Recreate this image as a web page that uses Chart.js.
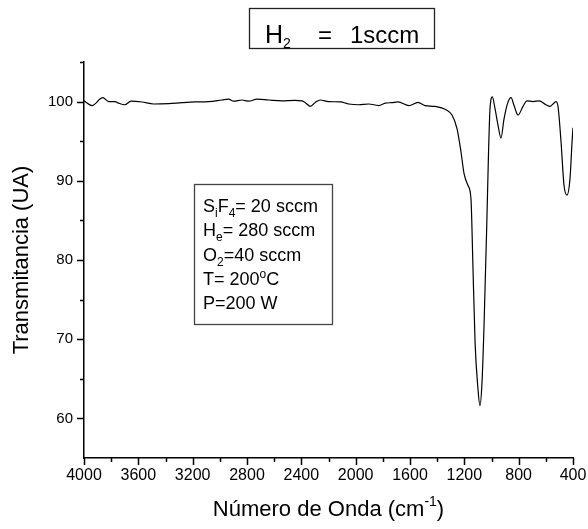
<!DOCTYPE html>
<html>
<head>
<meta charset="utf-8">
<title>Transmitancia</title>
<script src="https://cdn.jsdelivr.net/npm/chart.js@4.4.1/dist/chart.umd.min.js"></script>
<style>
  html, body { margin: 0; padding: 0; background: #fff; }
  #wrap { width: 588px; height: 529px; }
</style>
</head>
<body>
<div id="wrap"><canvas id="grafico" width="588" height="529"></canvas></div>
<script>
// espectro FTIR: numero de onda (cm-1) y transmitancia (UA)
const numeroOnda = [
  4000, 3941, 3862, 3818, 3772, 3745, 3700, 3654, 3573, 3487,
  3376, 3279, 3183, 3082, 2984, 2935, 2898, 2837, 2788, 2726,
  2640, 2542, 2447, 2395, 2366, 2334, 2297, 2260, 2199, 2113,
  2051, 1978, 1904, 1830, 1782, 1733, 1688, 1607, 1541, 1490,
  1416, 1328, 1291, 1254, 1225, 1202, 1173, 1151, 1138, 1121,
  1100, 1085, 1070, 1055, 1035, 1023, 1011, 994, 974, 952,
  930, 908, 878, 856, 834, 805, 768, 739, 694, 650,
  599, 569, 547, 525, 510, 488, 466, 444, 422, 407, 400
];
const transmitancia = [
  100.1, 99.5, 100.5, 100.0, 100.0, 99.8, 99.6, 100.05, 99.95, 99.7,
  99.75, 99.87, 99.96, 100.0, 100.2, 100.3, 100.05, 100.2, 100.05, 100.3,
  100.2, 100.1, 100.15, 100.1, 99.8, 99.4, 99.9, 100.2, 100.0, 99.96,
  99.7, 99.6, 99.7, 99.5, 99.8, 99.87, 99.96, 99.5, 99.9, 99.5,
  99.4, 98.9, 98.3, 96.6, 93.7, 90.9, 89.4, 87.7, 80.1, 69.6,
  63.8, 61.6, 64.5, 71.7, 84.3, 92.8, 99.1, 100.6, 99.1, 97.0,
  95.4, 97.8, 99.96, 100.5, 99.5, 98.3, 99.4, 100.1, 100.0, 100.1,
  99.6, 99.4, 99.7, 100.0, 99.35, 94.9, 89.4, 88.2, 90.3, 94.9, 96.7
];

const ticksX = [4000, 3600, 3200, 2800, 2400, 2000, 1600, 1200, 800, 400];
const ticksY = [60, 70, 80, 90, 100];
const rangoX = [400, 4000];
const rangoY = [55, 105];

const FUENTE = '"Liberation Sans", Arial, Helvetica, sans-serif';

// escribe una serie de trozos [texto, tamaño, desplazamiento vertical]
function textoCompuesto(ctx, x, y, trozos) {
  let cx = x;
  trozos.forEach(([t, size, dy]) => {
    ctx.font = size + 'px ' + FUENTE;
    ctx.fillText(t, cx, y + dy);
    cx += ctx.measureText(t).width;
  });
  return cx;
}

function anchoCompuesto(ctx, trozos) {
  let w = 0;
  trozos.forEach(([t, size]) => {
    ctx.font = size + 'px ' + FUENTE;
    w += ctx.measureText(t).width;
  });
  return w;
}

const marcasEjes = {
  id: 'marcasEjes',
  afterDraw(chart) {
    const { ctx, chartArea: a, scales } = chart;
    const sx = scales.x, sy = scales.y;
    ctx.save();
    ctx.strokeStyle = '#000';
    ctx.lineWidth = 1.5;
    ctx.beginPath();

    // ticks mayores y menores del eje x
    ticksX.forEach((v, i) => {
      const px = Math.round(sx.getPixelForValue(v)) + 0.5;
      ctx.moveTo(px, a.bottom); ctx.lineTo(px, a.bottom + 7);
      if (i < ticksX.length - 1) {
        const m = (v + ticksX[i + 1]) / 2;
        const pm = Math.round(sx.getPixelForValue(m)) + 0.5;
        ctx.moveTo(pm, a.bottom); ctx.lineTo(pm, a.bottom + 4);
      }
    });

    // ticks del eje y (menores cada 5)
    ticksY.forEach(v => {
      const py = Math.round(sy.getPixelForValue(v)) + 0.5;
      ctx.moveTo(a.left, py); ctx.lineTo(a.left - 7, py);
    });
    [65, 75, 85, 95, 105].forEach(v => {
      const py = Math.round(sy.getPixelForValue(v)) + 0.5;
      ctx.moveTo(a.left, py); ctx.lineTo(a.left - 4, py);
    });
    ctx.stroke();

    ctx.fillStyle = '#000';
    ctx.textBaseline = 'alphabetic';
    ctx.textAlign = 'left';

    // titulo eje x con superindice
    const tituloX = [['Número de Onda (cm', 22, 0], ['-1', 14, -10], [')', 22, 0]];
    const cx = (a.left + a.right) / 2;
    textoCompuesto(ctx, cx - anchoCompuesto(ctx, tituloX) / 2, 516, tituloX);

    // recuadro H2
    ctx.lineWidth = 1.3;
    ctx.strokeStyle = '#222';
    ctx.strokeRect(249.5, 8.5, 185, 40);
    textoCompuesto(ctx, 265, 43, [['H', 25, 0], ['2', 14, 5]]);
    textoCompuesto(ctx, 318, 43, [['=', 24, 0]]);
    textoCompuesto(ctx, 350, 43, [['1sccm', 24, 0]]);

    // recuadro de condiciones
    ctx.strokeStyle = '#444';
    ctx.strokeRect(194.5, 184.5, 138, 140);
    const x0 = 203;
    textoCompuesto(ctx, x0, 212, [['S', 18, 0], ['i', 12, 5], ['F', 18, 0], ['4', 12, 5], ['= 20 sccm', 18, 0]]);
    textoCompuesto(ctx, x0, 236, [['H', 18, 0], ['e', 12, 5], ['= 280 sccm', 18, 0]]);
    textoCompuesto(ctx, x0, 261, [['O', 18, 0], ['2', 12, 5], ['=40 sccm', 18, 0]]);
    textoCompuesto(ctx, x0, 285, [['T= 200', 18, 0], ['o', 12, -7], ['C', 18, 0]]);
    textoCompuesto(ctx, x0, 309, [['P=200 W', 18, 0]]);
    ctx.restore();
  }
};

new Chart(document.getElementById('grafico'), {
  type: 'line',
  data: {
    datasets: [{
      data: numeroOnda.map((x, i) => ({ x, y: transmitancia[i] })),
      borderColor: '#000',
      borderWidth: 1.2,
      pointRadius: 0,
      fill: false,
      cubicInterpolationMode: 'monotone'
    }]
  },
  options: {
    responsive: false,
    animation: false,
    devicePixelRatio: 1,
    layout: { padding: { left: 0, right: 15, top: 62, bottom: 0 } },
    plugins: { legend: { display: false }, tooltip: { enabled: false } },
    scales: {
      x: {
        type: 'linear',
        reverse: true,
        min: rangoX[0],
        max: rangoX[1],
        afterBuildTicks: s => { s.ticks = ticksX.map(v => ({ value: v })); },
        afterFit: s => { s.height = 71; },
        grid: { display: false, drawTicks: true, tickLength: 7 },
        border: { display: true, color: '#000', width: 1.5 },
        ticks: {
          color: '#000',
          font: { family: FUENTE, size: 16 },
          padding: 1,
          maxRotation: 0,
          autoSkip: false,
          callback: v => String(v)
        }
      },
      y: {
        type: 'linear',
        min: rangoY[0],
        max: rangoY[1],
        afterBuildTicks: s => { s.ticks = ticksY.map(v => ({ value: v })); },
        afterFit: s => { s.width = 84; },
        grid: { display: false, drawTicks: true, tickLength: 7 },
        border: { display: true, color: '#000', width: 1.5 },
        ticks: {
          color: '#000',
          font: { family: FUENTE, size: 15 },
          padding: 4,
          callback: v => String(v)
        },
        title: {
          display: true,
          text: 'Transmitancia (UA)',
          color: '#000',
          font: { family: FUENTE, size: 22 },
          padding: { top: 9, bottom: 0 }
        }
      }
    }
  },
  plugins: [marcasEjes]
});
</script>
</body>
</html>
